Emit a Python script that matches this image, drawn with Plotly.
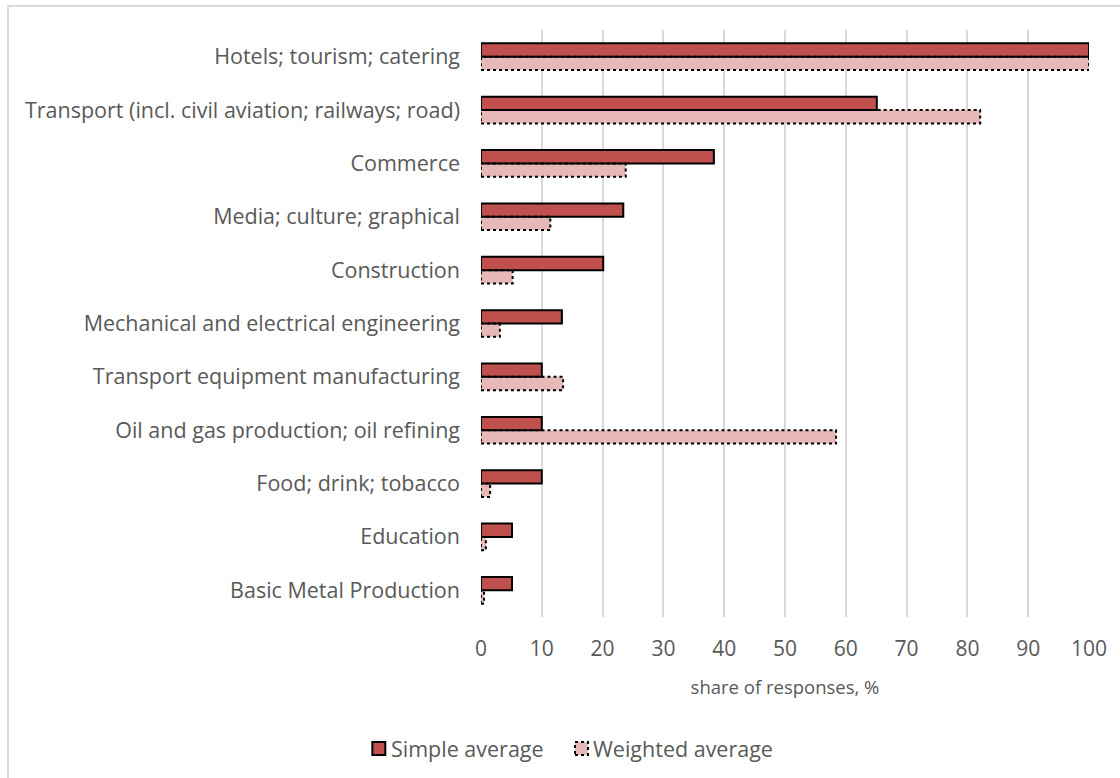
import plotly.graph_objects as go

categories = [
    "Hotels; tourism; catering",
    "Transport (incl. civil aviation; railways; road)",
    "Commerce",
    "Media; culture; graphical",
    "Construction",
    "Mechanical and electrical engineering",
    "Transport equipment manufacturing",
    "Oil and gas production; oil refining",
    "Food; drink; tobacco",
    "Education",
    "Basic Metal Production",
]
simple_avg = [100, 65.1, 38.3, 23.4, 20.1, 13.3, 10.0, 10.0, 10.0, 5.1, 5.1]
weighted_avg = [100, 82.1, 23.8, 11.4, 5.2, 3.1, 13.5, 58.4, 1.5, 0.8, 0.5]
x_ticks = [0, 10, 20, 30, 40, 50, 60, 70, 80, 90, 100]

SIMPLE_COLOR = "#C0504D"
WEIGHTED_COLOR = "#E6B9B8"
TEXT_COLOR = "#595959"
FONT = "Open Sans"
BAR_W = 0.25

n = len(categories)
ypos = [n - 1 - i for i in range(n)]  # first category at the top

fig = go.Figure()
fig.add_trace(go.Bar(
    y=ypos, x=weighted_avg, orientation="h", name="Weighted average",
    width=BAR_W, offset=-BAR_W,
    marker=dict(color=WEIGHTED_COLOR, line=dict(width=0)),
    showlegend=False,
))
fig.add_trace(go.Bar(
    y=ypos, x=simple_avg, orientation="h", name="Simple average",
    width=BAR_W, offset=0,
    marker=dict(color=SIMPLE_COLOR, line=dict(color="black", width=2)),
    showlegend=False,
))

# dotted outlines for the weighted bars
for y, v in zip(ypos, weighted_avg):
    fig.add_shape(type="rect", xref="x", yref="y",
                  x0=0, x1=v, y0=y - BAR_W, y1=y,
                  line=dict(color="black", width=2, dash="dot"),
                  layer="above")

# legend drawn by hand so the weighted swatch can carry a dotted border
LEG_Y0, LEG_Y1, LEG_YC = -0.2351, -0.2129, -0.2240
fig.add_shape(type="rect", xref="paper", yref="paper",
              x0=-0.1787, x1=-0.1574, y0=LEG_Y0, y1=LEG_Y1,
              fillcolor=SIMPLE_COLOR, line=dict(color="black", width=2))
fig.add_annotation(xref="paper", yref="paper", x=-0.152, y=LEG_YC,
                   text="Simple average", showarrow=False,
                   xanchor="left", yanchor="middle",
                   font=dict(family=FONT, size=21.5, color=TEXT_COLOR))
fig.add_shape(type="rect", xref="paper", yref="paper",
              x0=0.1546, x1=0.1760, y0=LEG_Y0, y1=LEG_Y1,
              fillcolor=WEIGHTED_COLOR, line=dict(color="black", width=2, dash="dot"))
fig.add_annotation(xref="paper", yref="paper", x=0.1810, y=LEG_YC,
                   text="Weighted average", showarrow=False,
                   xanchor="left", yanchor="middle",
                   font=dict(family=FONT, size=21.5, color=TEXT_COLOR))

# outer chart border
fig.add_shape(type="rect", xref="paper", yref="paper",
              x0=-0.778, x1=1.06, y0=-0.285, y1=1.041,
              line=dict(color="#D9D9D9", width=2), fillcolor="rgba(0,0,0,0)")

fig.update_layout(
    width=1120, height=778,
    margin=dict(l=481, r=31, t=30, b=161),
    paper_bgcolor="white", plot_bgcolor="white",
    font=dict(family=FONT, color=TEXT_COLOR),
    barmode="overlay",
    xaxis=dict(
        range=[0, 100], tickvals=x_ticks, showgrid=True,
        gridcolor="#D9D9D9", gridwidth=2, zeroline=False,
        showline=False, ticks="",
        tickfont=dict(family=FONT, size=21, color=TEXT_COLOR),
        ticklabelstandoff=17,
        title=dict(text="share of responses, %", standoff=20,
                   font=dict(family=FONT, size=18.5, color=TEXT_COLOR)),
    ),
    yaxis=dict(
        range=[-0.5, n - 0.5], tickvals=ypos, ticktext=categories,
        showgrid=False, zeroline=False, showline=False, ticks="",
        tickfont=dict(family=FONT, size=21.5, color=TEXT_COLOR),
        ticklabelstandoff=20,
    ),
)

fig.write_html("out.html")
